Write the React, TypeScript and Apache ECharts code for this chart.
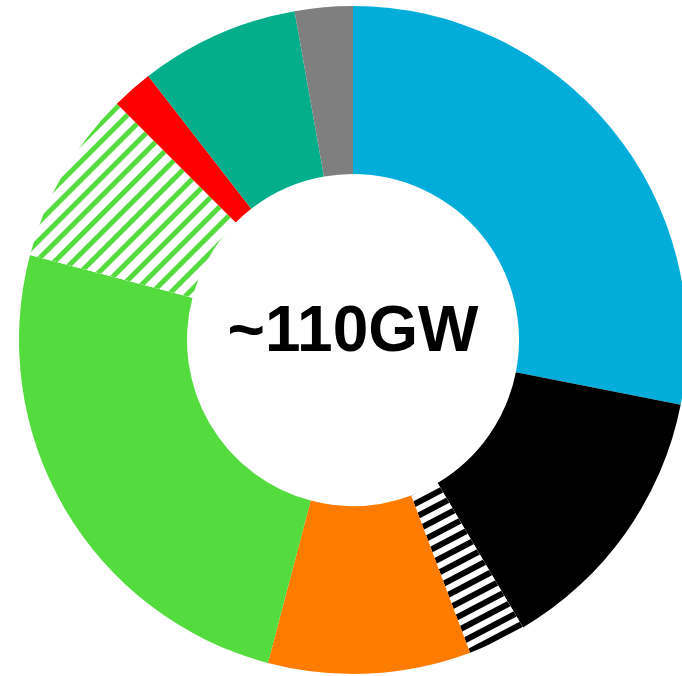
import React, { useEffect, useRef } from "react";
import * as echarts from "echarts";

const categories = [
  "Segment 1",
  "Segment 2",
  "Segment 3 (hatched)",
  "Segment 4",
  "Segment 5",
  "Segment 6 (hatched)",
  "Segment 7",
  "Segment 8",
  "Segment 9",
];
const values = [28.1, 13.4, 2.8, 9.8, 25.0, 8.4, 2.0, 7.7, 2.8];
const colors = ["#02AED9", "#000000", "#000000", "#FF7C00", "#54DC3F", "#54DC3F", "#FF0000", "#03AF8B", "#7F7F7F"];
const hatched = [false, false, true, false, false, true, false, false, false];
const centerLabel = "~110GW";

export default function App() {
  const ref = useRef<HTMLDivElement>(null);
  useEffect(() => {
    if (!ref.current) return;
    const chart = echarts.init(ref.current, null, { renderer: "svg" });
    const data = categories.map((name, i) => {
      if (hatched[i]) {
        const isBlack = colors[i] === "#000000";
        return {
          name,
          value: values[i],
          itemStyle: {
            color: "#ffffff",
            decal: {
              symbol: "rect",
              color: colors[i],
              dashArrayX: [1, 0],
              dashArrayY: isBlack ? [6, 6] : [5, 8],
              rotation: isBlack ? -Math.PI / 6.5 : -Math.PI / 4,
              symbolSize: 1,
            },
          },
        };
      }
      return { name, value: values[i], itemStyle: { color: colors[i] } };
    });
    chart.setOption({
      animation: false,
      series: [
        {
          type: "pie",
          center: [353, 340],
          radius: [166, 334],
          startAngle: 90,
          clockwise: true,
          label: { show: false },
          labelLine: { show: false },
          emphasis: { disabled: true },
          itemStyle: { borderWidth: 0 },
          data,
        },
      ],
      graphic: [
        {
          type: "text",
          style: {
            text: centerLabel,
            x: 353,
            y: 329,
            align: "center",
            verticalAlign: "middle",
            font: 'bold 64px "Liberation Sans", Arial, sans-serif',
            fill: "#000000",
          },
        },
      ],
    });
    return () => chart.dispose();
  }, []);
  return (
    <div
      ref={ref}
      style={{ position: "fixed", left: 0, top: 0, width: 682, height: 676, background: "#fff" }}
    />
  );
}
